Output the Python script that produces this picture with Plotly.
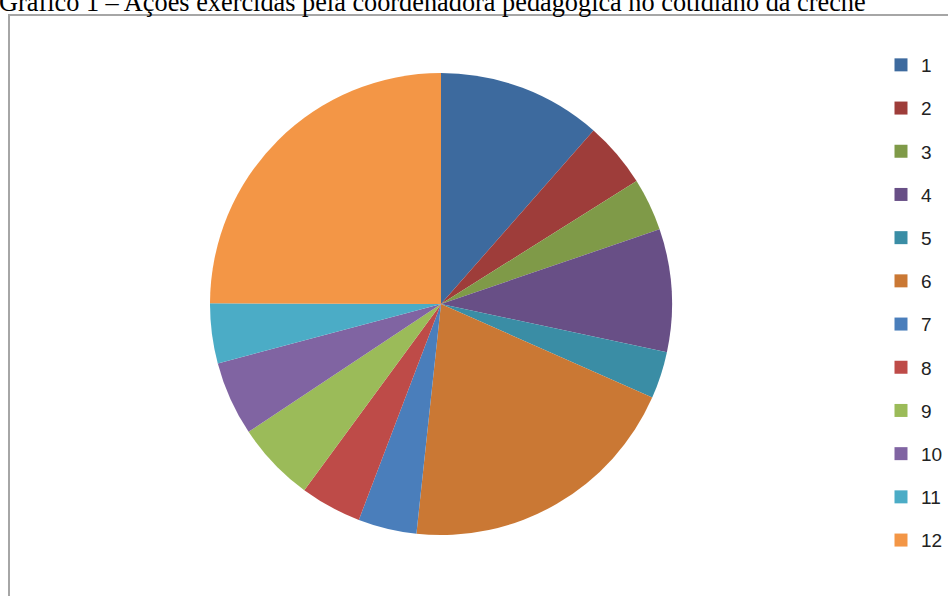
import plotly.graph_objects as go

labels = ["1", "2", "3", "4", "5", "6", "7", "8", "9", "10", "11", "12"]
values = [11.5, 4.6, 3.7, 8.6, 3.3, 20.1, 4.1, 4.3, 5.6, 5.2, 4.2, 25.0]
colors = ["#3D6A9E", "#9E3D3A", "#7F9A48", "#684F86", "#3A8DA5", "#CA7834",
          "#4A7EBB", "#BE4B48", "#9BBB59", "#8064A2", "#4BACC6", "#F39646"]
title_text = "Gráfico 1 – Ações exercidas pela coordenadora pedagógica no cotidiano da creche"

W, H = 948, 596

def px_x(x):
    return x / W

def px_y(y):
    return 1 - y / H

fig = go.Figure()
fig.add_trace(go.Pie(
    labels=labels,
    values=values,
    marker=dict(colors=colors, line=dict(width=0)),
    sort=False,
    direction="clockwise",
    rotation=0,
    textinfo="none",
    hoverinfo="label+value",
    showlegend=False,
    domain=dict(x=[px_x(441 - 231), px_x(441 + 231)], y=[px_y(535), px_y(73)]),
))

# legend entries (one per slice), spaced like the reference legend
for lab, col in zip(labels, colors):
    fig.add_trace(go.Scatter(
        x=[None], y=[None], mode="markers", name=lab, legendgroup=lab,
        marker=dict(symbol="square", size=13, color=col),
        showlegend=True, hoverinfo="skip",
    ))

fig.update_layout(
    width=W, height=H,
    margin=dict(l=0, r=0, t=0, b=0),
    paper_bgcolor="white",
    plot_bgcolor="white",
    xaxis=dict(visible=False),
    yaxis=dict(visible=False),
    showlegend=True,
    legend=dict(
        x=1, y=px_y(46), xanchor="right", yanchor="top",
        font=dict(family="Liberation Sans, Arial, sans-serif", size=19, color="#222222"),
        bgcolor="rgba(0,0,0,0)",
        tracegroupgap=15.5,
        itemclick=False, itemdoubleclick=False,
    ),
    shapes=[dict(
        type="rect", xref="paper", yref="paper",
        x0=px_x(9), x1=1.02, y0=-0.02, y1=px_y(15),
        line=dict(color="#A6A6A6", width=2), fillcolor="rgba(0,0,0,0)", layer="below",
    )],
    annotations=[dict(
        text=title_text, xref="paper", yref="paper",
        x=px_x(-3), y=px_y(19), xanchor="left", yanchor="bottom",
        showarrow=False,
        font=dict(family="Liberation Serif, Times New Roman, serif", size=26.3, color="#000000"),
    )],
)

fig.write_html(
    "out.html",
    config={"displayModeBar": False},
    post_script="document.body.style.margin='0';document.body.style.overflow='hidden';",
)
